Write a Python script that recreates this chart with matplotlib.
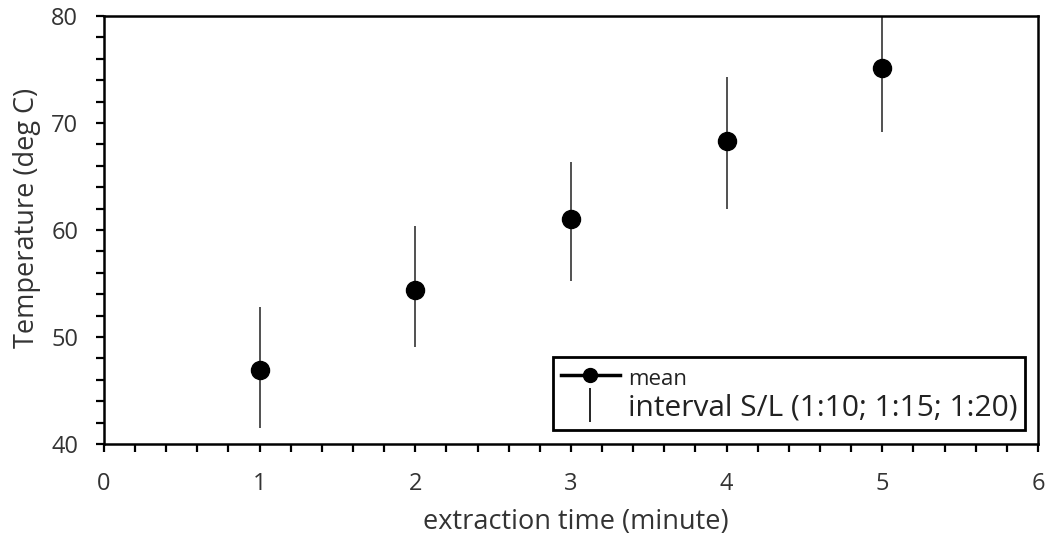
import matplotlib
matplotlib.use('Agg')
import matplotlib.pyplot as plt
from matplotlib.lines import Line2D
from matplotlib.ticker import MultipleLocator

plt.rcParams['font.family'] = ['Open Sans', 'DejaVu Sans']

# data
time_min = [1, 2, 3, 4, 5]
temp_mean = [46.9, 54.4, 61.0, 68.3, 75.1]
temp_low = [41.5, 49.1, 55.2, 62.0, 69.2]
temp_high = [52.8, 60.4, 66.4, 74.3, 80.5]

fig = plt.figure(figsize=(10.48, 5.42), dpi=100)
ax = fig.add_axes([0.0992, 0.1808, 0.8912, 0.7897])

ax.vlines(time_min, temp_low, temp_high, color='#222222', linewidth=1.1, zorder=2)
ax.plot(time_min, temp_mean, 'o', color='black', markersize=13, linestyle='none', zorder=3)

ax.set_xlim(0, 6)
ax.set_ylim(40, 80)
ax.xaxis.set_major_locator(MultipleLocator(1))
ax.xaxis.set_minor_locator(MultipleLocator(0.2))
ax.yaxis.set_major_locator(MultipleLocator(10))
ax.yaxis.set_minor_locator(MultipleLocator(2))
ax.tick_params(which='both', direction='out', length=5.5, width=1.6, colors='black')
ax.tick_params(which='major', labelsize=17, labelcolor='#333333')
ax.tick_params(axis='y', which='major', pad=13)
ax.tick_params(axis='x', which='major', pad=15)
for s in ax.spines.values():
    s.set_linewidth(1.8)

ax.set_xlabel('extraction time (minute)', fontsize=19.5, color='#333333')
ax.set_ylabel('Temperature (deg C)', fontsize=19.5, color='#333333')
ax.xaxis.label.set_va('center')
ax.yaxis.label.set_va('center')
ax.xaxis.set_label_coords(0.505, -0.183)
ax.yaxis.set_label_coords(-0.082, 0.528)

h_mean = Line2D([], [], color='black', marker='o', markersize=10, linewidth=2.5)
h_int = Line2D([], [], color='black', marker='|', markersize=24, markeredgewidth=1.2, linestyle='none')
leg = ax.legend([h_mean, h_int], ['mean', 'interval S/L (1:10; 1:15; 1:20)'],
                loc='lower right', bbox_to_anchor=(0.986, 0.033), fancybox=False,
                edgecolor='black', framealpha=1, handlelength=2.0, handletextpad=0.25,
                borderpad=0.25, borderaxespad=0, labelspacing=0.1, fontsize=21.5)
leg.get_frame().set_linewidth(2)
leg.get_texts()[0].set_fontsize(16)
for t in leg.get_texts():
    t.set_color('#222222')

fig.savefig('out.png', dpi=100)
